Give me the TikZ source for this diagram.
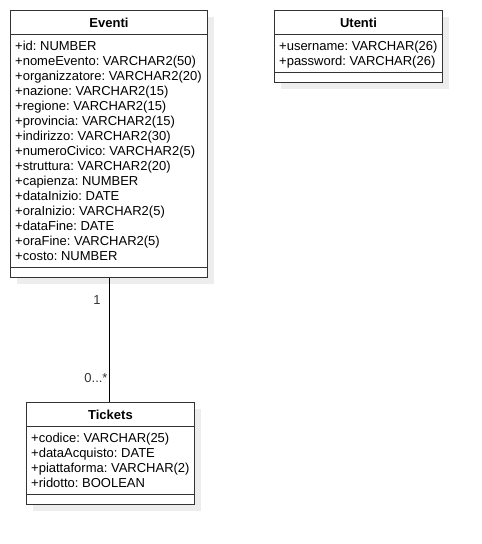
\documentclass[tikz,border=0pt]{standalone}
\usepackage{fontspec}
\setmainfont{Liberation Sans}
\usepackage{tikz}
\usetikzlibrary{positioning}
\usetikzlibrary{shadows}
\frenchspacing
\tikzset{
  classbox/.style = {draw=black!80, line width=0.9pt, fill=white, inner sep=0pt,
    anchor=north west, drop shadow={shadow xshift=7pt, shadow yshift=-7pt,
    fill=black!7, opacity=1}},% scatola della classe
  classname/.style = {anchor=base, inner sep=0pt,
    font=\fontsize{13}{15}\selectfont\bfseries},% nome della classe
  attr/.style = {anchor=base west, inner sep=0pt,
    font=\fontsize{13}{15}\selectfont},% attributo
  classline/.style = {draw=black!80, line width=0.9pt},
  mult/.style = {inner sep=0pt, text=black!80, font=\fontsize{13}{15}\selectfont}
}

\begin{document}
\begin{tikzpicture}[x=1pt,y=-1pt]
\useasboundingbox (0,0) rectangle (482,544);

% Eventi
\node [classbox, minimum width=197pt, minimum height=267pt] (eventi) at (10,10) {};
\node [classname] (eventi-name) at ([yshift=-17.5pt]eventi.north) {Eventi};
\draw [classline] ([yshift=-24pt]eventi.north west) -- ([yshift=-24pt]eventi.north east);
\foreach \a [count=\i] in {+id: NUMBER, +nomeEvento: VARCHAR2(50),
    +organizzatore: VARCHAR2(20), +nazione: VARCHAR2(15), +regione: VARCHAR2(15),
    +provincia: VARCHAR2(15), +indirizzo: VARCHAR2(30), +numeroCivico: VARCHAR2(5),
    +struttura: VARCHAR2(20), +capienza: NUMBER, +dataInizio: DATE,
    +oraInizio: VARCHAR2(5), +dataFine: DATE, +oraFine: VARCHAR2(5), +costo: NUMBER}
  \node [attr] (ev-\i) at ([xshift=5pt, yshift={-25pt-15pt*\i}]eventi.north west) {\a};
\draw [classline] ([yshift=10pt]eventi.south west) -- ([yshift=10pt]eventi.south east);

% Utenti
\node [classbox, minimum width=168pt, minimum height=72pt] (utenti) at (274,10) {};
\node [classname] (utenti-name) at ([yshift=-17.5pt]utenti.north) {Utenti};
\draw [classline] ([yshift=-24pt]utenti.north west) -- ([yshift=-24pt]utenti.north east);
\foreach \a [count=\i] in {+username: VARCHAR(26), +password: VARCHAR(26)}
  \node [attr] (ut-\i) at ([xshift=5pt, yshift={-25pt-15pt*\i}]utenti.north west) {\a};
\draw [classline] ([yshift=10pt]utenti.south west) -- ([yshift=10pt]utenti.south east);

% Tickets
\node [classbox, minimum width=168pt, minimum height=102pt] (tickets) at (26,402) {};
\node [classname] (tickets-name) at ([yshift=-17.5pt]tickets.north) {Tickets};
\draw [classline] ([yshift=-24pt]tickets.north west) -- ([yshift=-24pt]tickets.north east);
\foreach \a [count=\i] in {+codice: VARCHAR(25), +dataAcquisto: DATE,
    +piattaforma: VARCHAR(2), +ridotto: BOOLEAN}
  \node [attr] (ti-\i) at ([xshift=5pt, yshift={-25pt-15pt*\i}]tickets.north west) {\a};
\draw [classline] ([yshift=10pt]tickets.south west) -- ([yshift=10pt]tickets.south east);

% associazione
\draw [line width=0.8pt] (eventi.south) -- node [mult, pos=0.175, left=8pt] (m-uno) {1}
  node [mult, pos=0.81, left=1pt] (m-molti) {0...*} (eventi.south |- tickets.north);
\end{tikzpicture}
\end{document}
